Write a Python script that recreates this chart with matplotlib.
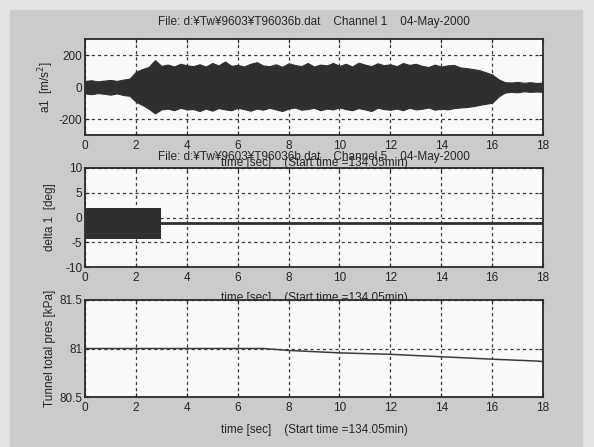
import matplotlib
matplotlib.use("Agg")
import matplotlib.pyplot as plt
from matplotlib.patches import Rectangle
import numpy as np

plt.rcParams['font.family'] = ['Liberation Sans', 'DejaVu Sans']

# Channel 1, a1 [m/s^2]: envelope of the vibration, read every 0.25 sec (0 .. 18 sec)
a1_upper = [38, 42, 35, 40, 44, 38, 46, 52, 95, 112, 125, 168, 132, 140, 128, 145,
            136, 130, 142, 128, 150, 135, 160, 132, 138, 128, 145, 155, 135, 130,
            142, 126, 148, 138, 130, 150, 128, 140, 135, 150, 132, 145, 128, 152,
            140, 130, 148, 136, 142, 130, 150, 138, 145, 132, 125, 140,
            128, 135, 138, 122, 118, 112, 105, 92, 78, 48, 30, 28, 32, 26, 30, 25, 28]
a1_lower = [-40, -45, -38, -42, -48, -40, -50, -55, -92, -112, -135, -165, -140, -135,
            -145, -130, -140, -138, -150, -135, -148, -132, -140, -145, -130, -138,
            -148, -135, -142, -130, -140, -150, -135, -128, -142, -138, -130, -145,
            -135, -140, -128, -138, -145, -132, -140, -150, -130, -138, -142, -135,
            -145, -130, -140, -136, -128, -142,
            -135, -140, -132, -128, -125, -120, -112, -105, -98, -60, -35, -30, -33,
            -27, -30, -28, -30]

# Channel 5, delta 1 [deg]: burst at the start, then flat
delta_burst_t = [0.0, 3.0]
delta_burst_hi = [1.9, 1.9]
delta_burst_lo = [-4.3, -4.3]
delta_rest_t = [3.0, 18.0]
delta_rest = [-1.1, -1.1]

# Tunnel total pressure [kPa]
pres_t = [0, 2, 4, 6, 7, 8, 10, 12, 14, 16, 17.8, 18]
pres = [81.0, 81.0, 81.0, 81.0, 81.0, 80.98, 80.955, 80.94, 80.915, 80.89, 80.87, 80.865]

file_title = 'File: d:\u00a5Tw\u00a59603\u00a5T96036b.dat    Channel {}    04-May-2000'
time_label = 'time [sec]    (Start time =134.05min)'

W, H = 594, 447
INK = '#262626'


def style_axes(ax, ylim, yticks, yticklabels):
    ax.set_facecolor('#fafafa')
    ax.set_xlim(0, 18)
    ax.set_xticks(range(0, 19, 2))
    ax.set_ylim(*ylim)
    ax.set_yticks(yticks)
    ax.set_yticklabels(yticklabels)
    ax.grid(True, linestyle=(0, (2.5, 2.5)), color='#3a3a3a', linewidth=0.9)
    ax.set_axisbelow(True)
    ax.tick_params(direction='in', length=3, top=True, right=True,
                   labelsize=8.5, colors=INK)
    ax.tick_params(axis='x', pad=3.5)
    ax.tick_params(axis='y', pad=2)
    for sp in ax.spines.values():
        sp.set_linewidth(1.3)
        sp.set_color('#2a2a2a')


def add_axes(fig, top_px, bottom_px):
    left, right = 85, 543
    return fig.add_axes([left / W, 1 - bottom_px / H,
                         (right - left) / W, (bottom_px - top_px) / H])


def main():
    fig = plt.figure(figsize=(W / 100, H / 100), dpi=100)
    fig.patch.set_facecolor('#e3e3e3')
    # darker scanned page area behind the plots
    fig.add_artist(Rectangle((10 / W, 0), 572 / W, 1 - 10 / H,
                             transform=fig.transFigure, color='#cbcbcb', zorder=-5))

    # top: channel 1
    ax1 = add_axes(fig, 39, 135)
    t = np.linspace(0, 18, len(a1_upper))
    ax1.fill_between(t, a1_lower, a1_upper, color='#2f2f2f', linewidth=0.8,
                     edgecolor='#2f2f2f', zorder=3)
    style_axes(ax1, (-300, 300), [-200, 0, 200], ['-200', '0', '200'])
    ax1.text(0.5, 1 + 17 / 96, file_title.format(1), transform=ax1.transAxes,
             ha='center', va='center', fontsize=8.5, color=INK)
    ax1.set_xlabel(time_label, fontsize=8.5, color=INK)
    ax1.xaxis.set_label_coords(0.5, -22 / 96)
    ax1.set_ylabel('a1  [m/s$^2$]', fontsize=8.5, color=INK)
    ax1.yaxis.set_label_coords(-0.063, 0.5)

    # middle: channel 5
    ax2 = add_axes(fig, 168, 267)
    ax2.fill_between(delta_burst_t, delta_burst_lo, delta_burst_hi, color='#2f2f2f',
                     linewidth=0, zorder=3)
    ax2.plot(delta_rest_t, delta_rest, color='#2f2f2f', linewidth=2.0, zorder=3)
    style_axes(ax2, (-10, 10), [-10, -5, 0, 5, 10], ['-10', '-5', '0', '5', '10'])
    ax2.text(0.5, 1 + 11 / 99, file_title.format(5), transform=ax2.transAxes,
             ha='center', va='center', fontsize=8.5, color=INK)
    ax2.set_xlabel(time_label, fontsize=8.5, color=INK)
    ax2.xaxis.set_label_coords(0.5, -25 / 99)
    ax2.set_ylabel('delta 1  [deg]', fontsize=8.5, color=INK)
    ax2.yaxis.set_label_coords(-0.063, 0.5)

    # bottom: tunnel total pressure
    ax3 = add_axes(fig, 300, 397)
    ax3.plot(pres_t, pres, color='#3c3c3c', linewidth=1.1, zorder=3)
    style_axes(ax3, (80.5, 81.5), [80.5, 81, 81.5], ['80.5', '81', '81.5'])
    ax3.set_xlabel(time_label, fontsize=8.5, color=INK)
    ax3.xaxis.set_label_coords(0.5, -27 / 97)
    ax3.set_ylabel('Tunnel total pres [kPa]', fontsize=8.5, color=INK)
    ax3.yaxis.set_label_coords(-0.063, 0.5)

    fig.savefig('out.png', dpi=100, facecolor=fig.get_facecolor())


if __name__ == '__main__':
    main()
